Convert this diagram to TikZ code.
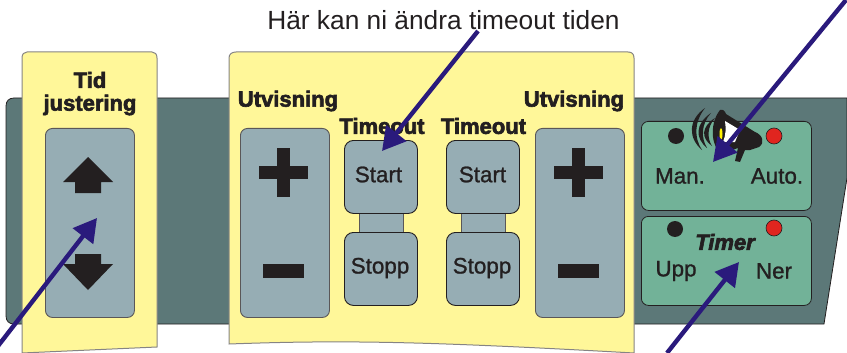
\documentclass[tikz,border=0pt]{standalone}
\usepackage{fontspec}
\setmainfont{Liberation Sans}
\newfontfamily\hvy[FakeBold=2.8]{Liberation Sans Bold}
\newfontfamily\hvyit[FakeBold=2.8]{Liberation Sans Bold Italic}
\newfontfamily\reg[FakeBold=1.1]{Liberation Sans}
\usetikzlibrary{arrows.meta}
\definecolor{panelc}{HTML}{5C7878}
\definecolor{yel}{HTML}{FFF799}
\definecolor{gray1}{HTML}{96ADB4}
\definecolor{grn}{HTML}{72B298}
\definecolor{ink}{HTML}{231F20}
\definecolor{blu}{HTML}{2A1A7C}
\definecolor{rd}{HTML}{E0251F}
\tikzset{
 x=1pt,y=-1pt,
 btn/.style={draw=ink!75,line width=0.9pt,fill=gray1,rounded corners=7pt},
 grnbox/.style={draw=ink,line width=0.8pt,fill=grn,rounded corners=7pt},
 yelsheet/.style={draw=ink!55,line width=1pt,fill=yel},
 glyph/.style={fill=ink,draw=none},
 head/.style={font=\hvy\fontsize{22}{22}\selectfont,text=ink,inner sep=0pt},
 lab/.style={font=\reg\fontsize{22.4}{24}\selectfont,text=ink,inner sep=0pt},
 pointer/.style={draw=blu,line width=4.4pt,-{Triangle[length=23pt,width=25pt]}},
}
\begin{document}
\begin{tikzpicture}
\useasboundingbox (0,0) rectangle (847,353);
% panel
\draw[draw=ink,line width=.8pt,fill=panelc]
  (14,98) -- (847,98) -- (847,178) -- (824,324) -- (14,324) .. controls (9,324) and (6,321) .. (6,316) -- (6,106) .. controls (6,101) and (9,98) .. (14,98) -- cycle;
% sheets
\draw[yelsheet] (22,353) -- (22,58) .. controls (22,54) and (24,52) .. (27,52) -- (152,52) .. controls (155,52) and (157,54) .. (157,58) -- (157,347) -- cycle;
\draw[yelsheet] (229,344) .. controls (340,340) and (420,341) .. (634,353) -- (634,58) .. controls (634,54) and (632,52) .. (628,52) -- (236,52) .. controls (232,52) and (229,54) .. (229,58) -- cycle;
% big buttons
\node[btn,minimum width=89pt,minimum height=189pt,anchor=north west] (tidbox) at (45,128) {};
\node[btn,minimum width=89pt,minimum height=189pt,anchor=north west] (lbox) at (240,128) {};
\node[btn,minimum width=89pt,minimum height=189pt,anchor=north west] (rbox) at (535,128) {};
% start stop
\node[btn,rounded corners=0pt,minimum width=44pt,minimum height=22pt,anchor=north west] (lbr) at (359,212) {};
\node[btn,rounded corners=0pt,minimum width=44pt,minimum height=22pt,anchor=north west] (rbr) at (461,212) {};
\node[btn,draw=ink,rounded corners=9pt,minimum width=73pt,minimum height=73pt,anchor=north west] (lstart) at (344,140) {};
\node[btn,draw=ink,rounded corners=9pt,minimum width=73pt,minimum height=73pt,anchor=north west] (lstop) at (344,232) {};
\node[btn,draw=ink,rounded corners=9pt,minimum width=73pt,minimum height=73pt,anchor=north west] (rstart) at (446,140) {};
\node[btn,draw=ink,rounded corners=9pt,minimum width=73pt,minimum height=73pt,anchor=north west] (rstop) at (446,232) {};
\node[lab] (t1) at (378.5,174.5) {Start};
\node[lab] (t2) at (380,268) {Stopp};
\node[lab] (t3) at (482.5,174.5) {Start};
\node[lab] (t4) at (482,268) {Stopp};
% glyphs
\fill[glyph] (88,157) -- (113,182) -- (101,182) -- (101,193) -- (75,193) -- (75,182) -- (63,182) -- cycle;
\fill[glyph] (88,290) -- (113,264) -- (101,264) -- (101,254) -- (75,254) -- (75,264) -- (63,264) -- cycle;
\fill[glyph] (277,148) rectangle (290,197);
\fill[glyph] (259,166) rectangle (308,179);
\fill[glyph] (263,264) rectangle (304,278);
\fill[glyph] (572,148) rectangle (585,197);
\fill[glyph] (554,166) rectangle (603,179);
\fill[glyph] (558,264) rectangle (599,278);
% headings
\node[head] (h1) at (90,80) {Tid};
\node[head] (h2) at (90,105) {justering};
\node[head] (h3) at (288,101) {Utvisning};
\node[head] (h4) at (574,101) {Utvisning};
\node[head] (h5) at (382,126) {Timeout};
\node[head] (h6) at (483.5,126) {Timeout};
% green boxes
\node[grnbox,minimum width=170pt,minimum height=89pt,anchor=north west] (man) at (641,121) {};
\node[grnbox,minimum width=170pt,minimum height=89pt,anchor=north west] (tim) at (641,216) {};
\node[circle,fill=ink,minimum size=16pt,inner sep=0pt] (d1) at (676,136) {};
\node[circle,fill=rd,draw=ink,line width=.6pt,minimum size=16pt,inner sep=0pt] (d2) at (774,136) {};
\node[circle,fill=ink,minimum size=16pt,inner sep=0pt] (d3) at (675,229) {};
\node[circle,fill=rd,draw=ink,line width=.6pt,minimum size=16pt,inner sep=0pt] (d4) at (774,228) {};
\node[lab] (m1) at (680,176) {Man.};
\node[lab] (m2) at (777,176) {Auto.};
\node[lab] (m3) at (676,271) {Upp};
\node[lab] (m4) at (774,271) {Ner};
\node[font=\hvyit\fontsize{22}{22}\selectfont,text=ink,inner sep=0pt] (m5) at (725,242) {Timer};
% megaphone
\fill[ink] (720,110) .. controls (723,109) and (725,111) .. (726,114) -- (755,132) .. controls (763,135) and (765,143) .. (759,147) -- (750,150) -- (745,150) -- (740,162) -- (735,161) -- (738,148) -- (724,153) .. controls (712,152) and (708,125) .. (720,110) -- cycle;
\fill[white] (725,121) -- (740,130) -- (735,142) -- (723,142) .. controls (726,135) and (726,128) .. (725,121) -- cycle;
\fill[yellow] (721,134) ellipse (1.5pt and 6pt);
\fill[ink] (705,108) .. controls (688,120) and (688,138) .. (702,150) .. controls (694,138) and (694,122) .. (705,108) -- cycle;
\fill[ink] (711,113) .. controls (695,124) and (695,138) .. (707,148) .. controls (701,138) and (701,124) .. (711,113) -- cycle;
\fill[ink] (715,118) .. controls (701,127) and (701,138) .. (712,146) .. controls (707,138) and (707,127) .. (715,118) -- cycle;
% top text
\node[font=\fontsize{26.3}{28}\selectfont,text=ink,inner sep=0pt] (title) at (443.5,20) {Här kan ni ändra timeout tiden};
% pointers
\coordinate (a1s) at (-2,346);
\coordinate (a1e) at (97,218);
\coordinate (a2s) at (478,31);
\coordinate (a2e) at (382,151);
\coordinate (a3s) at (846,0);
\coordinate (a3e) at (713,162);
\coordinate (a4s) at (667,353);
\coordinate (a4e) at (739,262);
\draw[pointer] (a1s) -- (a1e);
\draw[pointer] (a2s) -- (a2e);
\draw[pointer] (a3s) -- (a3e);
\draw[pointer] (a4s) -- (a4e);
\end{tikzpicture}
\end{document}
